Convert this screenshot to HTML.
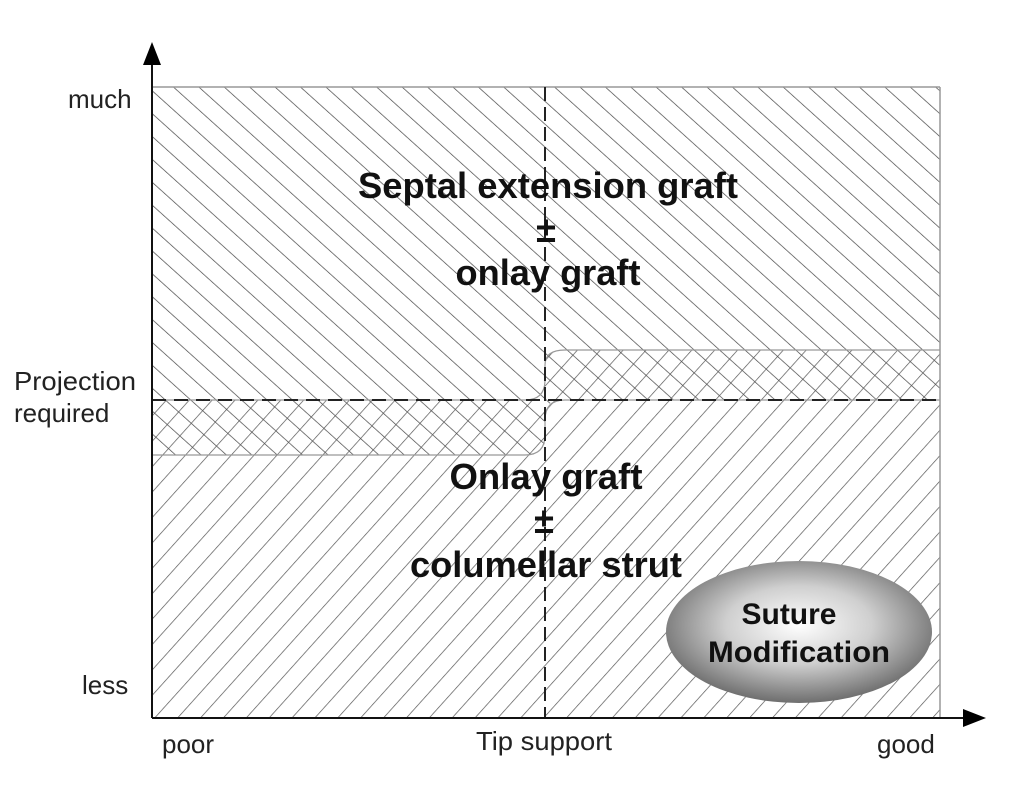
<!DOCTYPE html>
<html><head><style>
html,body{margin:0;padding:0;background:#fff;}
svg{display:block;}
text{font-family:"Liberation Sans",Arial,sans-serif;}
</style></head><body>
<svg width="1024" height="793" viewBox="0 0 1024 793" xmlns="http://www.w3.org/2000/svg">
<defs>
<pattern id="bs" patternUnits="userSpaceOnUse" width="17" height="17" patternTransform="rotate(-48)">
<line x1="0" y1="0" x2="0" y2="17" stroke="#444" stroke-width="1.4"/>
</pattern>
<pattern id="fs" patternUnits="userSpaceOnUse" width="17" height="17" patternTransform="rotate(42)">
<line x1="0" y1="0" x2="0" y2="17" stroke="#555" stroke-width="1.4"/>
</pattern>
<radialGradient id="eg" cx="0.5" cy="0.45" r="0.55">
<stop offset="0" stop-color="#fff"/>
<stop offset="0.5" stop-color="#cfcfcf"/>
<stop offset="1" stop-color="#6e6e6e"/>
</radialGradient>
</defs>
<path d="M152,87 H940 V400 H560 Q545,400 545,420 V440 Q545,455 525,455 H152 Z" fill="url(#bs)"/>
<path d="M152,400 H525 Q545,400 545,380 V365 Q545,350 565,350 H940 V718 H152 Z" fill="url(#fs)"/>
<path d="M152,455 H525 Q545,455 545,435 V420 Q545,400 565,400 H940" fill="none" stroke="#999" stroke-width="1.2"/>
<path d="M152,400 H525 Q545,400 545,380 V365 Q545,350 565,350 H940" fill="none" stroke="#999" stroke-width="1.2"/>
<line x1="152" y1="87" x2="940" y2="87" stroke="#999" stroke-width="1.5"/>
<line x1="940" y1="87" x2="940" y2="718" stroke="#999" stroke-width="1.5"/>
<line x1="152" y1="400" x2="940" y2="400" stroke="#222" stroke-width="2" stroke-dasharray="14,8"/>
<line x1="545" y1="87" x2="545" y2="718" stroke="#222" stroke-width="2" stroke-dasharray="14,6"/>
<line x1="152" y1="718" x2="152" y2="62" stroke="#111" stroke-width="2"/>
<polygon points="152,42 143,65 161,65" fill="#000"/>
<line x1="152" y1="718" x2="965" y2="718" stroke="#111" stroke-width="2"/>
<polygon points="986,718 963,709 963,727" fill="#000"/>
<ellipse cx="799" cy="632" rx="133" ry="71" fill="url(#eg)"/>
<g font-weight="bold" fill="#111" text-anchor="middle" font-size="36">
<text x="548" y="198" textLength="380" lengthAdjust="spacingAndGlyphs">Septal extension graft</text>
<text x="546" y="242">±</text>
<text x="548" y="285" textLength="185" lengthAdjust="spacingAndGlyphs">onlay graft</text>
<text x="546" y="489" textLength="193" lengthAdjust="spacingAndGlyphs">Onlay graft</text>
<text x="544" y="533">±</text>
<text x="546" y="577" textLength="272" lengthAdjust="spacingAndGlyphs">columellar strut</text>
<text x="789" y="624" font-size="30">Suture</text>
<text x="799" y="662" font-size="30" textLength="182" lengthAdjust="spacingAndGlyphs">Modification</text>
</g>
<g font-size="26" fill="#222">
<text x="68" y="108">much</text>
<text x="14" y="390" textLength="122" lengthAdjust="spacingAndGlyphs">Projection</text>
<text x="14" y="422">required</text>
<text x="82" y="694">less</text>
<text x="162" y="753">poor</text>
<text x="476" y="750" textLength="136" lengthAdjust="spacingAndGlyphs">Tip support</text>
<text x="877" y="753">good</text>
</g>
</svg>
</body></html>
